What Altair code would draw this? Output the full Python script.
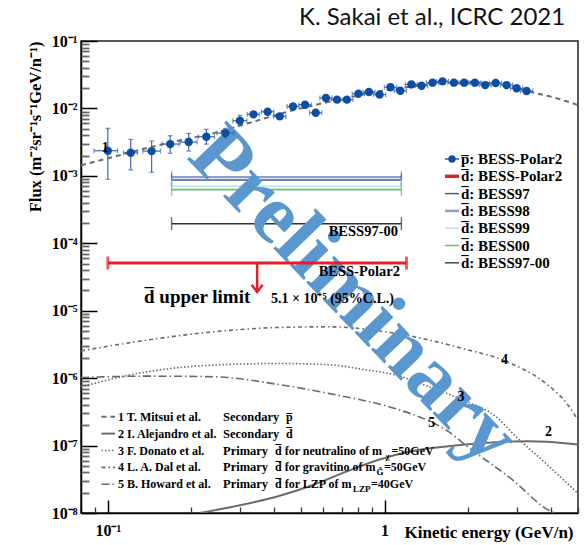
import altair as alt
import pandas as pd

SERIF = "Liberation Serif"

# ---------------- BESS-Polar II antiproton flux ----------------
pbar_energy = [0.100, 0.121, 0.144, 0.168, 0.196, 0.227, 0.266, 0.300, 0.336, 0.378,
               0.418, 0.467, 0.516, 0.564, 0.614, 0.673, 0.731, 0.804, 0.878, 0.959,
               1.05, 1.14, 1.25, 1.36, 1.49, 1.62, 1.78, 1.94, 2.12, 2.31,
               2.52, 2.76, 3.00, 3.26]
pbar_flux = [2.36e-3, 2.20e-3, 2.33e-3, 2.96e-3, 3.17e-3, 3.80e-3, 4.31e-3, 6.58e-3, 8.17e-3, 8.93e-3,
             7.62e-3, 1.07e-2, 1.135e-2, 8.63e-3, 1.43e-2, 1.35e-2, 1.35e-2, 1.65e-2, 1.75e-2, 1.60e-2,
             2.06e-2, 1.83e-2, 2.27e-2, 2.17e-2, 2.41e-2, 2.52e-2, 2.41e-2, 2.41e-2, 2.41e-2, 2.22e-2,
             2.38e-2, 2.22e-2, 1.99e-2, 1.81e-2]
pbar_flux_lo = [8.9e-4, 1.22e-3, 1.13e-3, 2.16e-3, 2.33e-3, 2.95e-3, 3.60e-3, 5.60e-3, 7.6e-3, 8.3e-3,
                7.1e-3, 1.00e-2, 1.07e-2, 8.1e-3, 1.35e-2, 1.28e-2, 1.28e-2, 1.57e-2, 1.67e-2, 1.52e-2,
                1.97e-2, 1.75e-2, 2.18e-2, 2.08e-2, 2.32e-2, 2.43e-2, 2.32e-2, 2.32e-2, 2.32e-2, 2.13e-2,
                2.29e-2, 2.13e-2, 1.91e-2, 1.73e-2]
pbar_flux_hi = [5.07e-3, 3.47e-3, 3.28e-3, 3.94e-3, 4.27e-3, 4.90e-3, 5.07e-3, 7.90e-3, 8.8e-3, 9.6e-3,
                8.2e-3, 1.14e-2, 1.20e-2, 9.2e-3, 1.51e-2, 1.42e-2, 1.42e-2, 1.73e-2, 1.83e-2, 1.68e-2,
                2.15e-2, 1.91e-2, 2.36e-2, 2.26e-2, 2.50e-2, 2.61e-2, 2.50e-2, 2.50e-2, 2.50e-2, 2.31e-2,
                2.47e-2, 2.31e-2, 2.07e-2, 1.89e-2]
pbar_energy_lo = [0.0892, 0.114, 0.134, 0.157, 0.183, 0.212, 0.248, 0.283, 0.319, 0.359,
                  0.397, 0.444, 0.490, 0.536, 0.584, 0.640, 0.695, 0.764, 0.835, 0.912,
                  0.998, 1.084, 1.188, 1.293, 1.416, 1.540, 1.692, 1.844, 2.015, 2.196,
                  2.395, 2.624, 2.852, 3.099]
pbar_energy_hi = [0.1084, 0.128, 0.155, 0.181, 0.210, 0.243, 0.285, 0.318, 0.353, 0.398,
                  0.440, 0.491, 0.543, 0.593, 0.646, 0.708, 0.769, 0.846, 0.924, 1.009,
                  1.105, 1.199, 1.315, 1.431, 1.567, 1.704, 1.873, 2.041, 2.230, 2.430,
                  2.651, 2.904, 3.156, 3.430]

# ---------------- antideuteron upper limits ----------------
bess_names = ["BESS98", "BESS97", "BESS99", "BESS00", "BESS97-00"]
bess_limits = [9.6e-4, 8.7e-4, 7.0e-4, 6.26e-4, 1.95e-4]
bess_emin, bess_emax = 0.17, 1.15
polar2_limit = 5.1e-5
polar2_emin, polar2_emax = 0.10, 1.20
polar2_arrow_end = 1.9e-5

# ---------------- model predictions ----------------
c1_energy = [0.08, 0.105, 0.15, 0.18, 0.24, 0.32, 0.45, 0.6, 0.8, 1.0, 1.3, 1.7, 2.2, 2.8, 3.3, 4.2, 5.0]
c1_flux = [1.44e-3, 1.92e-3, 2.8e-3, 3.32e-3, 4.27e-3, 6.0e-3, 9.0e-3, 1.2e-2, 1.55e-2, 1.85e-2,
           2.15e-2, 2.38e-2, 2.42e-2, 2.2e-2, 1.8e-2, 1.41e-2, 1.12e-2]
c2_energy = [0.215, 0.30, 0.418, 0.551, 0.727, 0.959, 1.265, 1.67, 2.2, 2.9, 3.34, 3.83, 5.0]
c2_flux = [1.0e-8, 1.3e-8, 1.8e-8, 2.6e-8, 4.1e-8, 6.2e-8, 8.3e-8, 9.7e-8, 1.08e-7, 1.15e-7,
           1.16e-7, 1.14e-7, 1.04e-7]
c3_energy = [0.08, 0.138, 0.24, 0.418, 0.633, 0.835, 1.10, 1.454, 1.918, 2.53, 2.99, 3.83, 5.0]
c3_flux = [7.45e-7, 1.24e-6, 1.56e-6, 1.65e-6, 1.58e-6, 1.35e-6, 1.11e-6, 7.43e-7, 4.72e-7,
           2.67e-7, 1.35e-7, 5.42e-8, 1.95e-8]
c4_energy = [0.08, 0.138, 0.24, 0.418, 0.633, 1.10, 1.918, 2.67, 3.83, 4.6, 5.0]
c4_flux = [2.54e-6, 3.66e-6, 4.86e-6, 5.65e-6, 5.77e-6, 4.6e-6, 2.75e-6, 1.85e-6, 8.3e-7, 4.0e-7, 2.38e-7]
c5_energy = [0.08, 0.138, 0.24, 0.418, 0.633, 1.10, 1.454, 1.67, 1.97, 2.9, 3.92, 4.12]
c5_flux = [1.02e-6, 1.07e-6, 1.05e-6, 8.0e-7, 5.9e-7, 3.5e-7, 2.3e-7, 1.7e-7, 1.0e-7, 3.1e-8, 1.1e-8, 1.0e-8]

curve_tags = ["1", "2", "3", "4", "5"]
curve_tag_energy = [0.0978, 3.91, 1.89, 2.71, 1.48]
curve_tag_flux = [2.56e-3, 1.6e-7, 5.28e-7, 1.89e-6, 2.13e-7]

model_authors = ["1 T. Mitsui et al.", "2 I. Alejandro et al.", "3 F. Donato et al.",
                 "4 L. A. Dal et al.", "5 B. Howard et al."]

# ---------------- layout ----------------
PLOT_W, PLOT_H = 497, 472
x_scale = alt.Scale(type="log", domain=[0.08, 5], nice=False)
y_scale = alt.Scale(type="log", domain=[1e-8, 1e-1], nice=False)

GRAY = "#6b6b6b"
curve_styles = [
    dict(strokeDash=[5, 4], strokeWidth=2.0, color=GRAY),
    dict(strokeWidth=2.0, color=GRAY),
    dict(strokeDash=[1.5, 2], strokeWidth=1.6, color=GRAY),
    dict(strokeDash=[4, 3, 1.5, 3], strokeWidth=1.6, color=GRAY),
    dict(strokeDash=[8, 3, 1.5, 3], strokeWidth=1.6, color=GRAY),
]
bess_colors = ["#8e9bcc", "#3f5c9e", "#c4e4f0", "#6abf6a", "#333333"]
bess_widths = [2.2, 1.6, 2.0, 1.8, 1.4]
RED = "#e3202a"
BLUE = "#0d4ea3"
ERR_BLUE = "#3a6ab2"


def xy(df, ex="energy", fy="flux"):
    return dict(x=alt.X(f"{ex}:Q", scale=x_scale, axis=None),
                y=alt.Y(f"{fy}:Q", scale=y_scale, axis=None))


def px_text(rows, **kw):
    df = pd.DataFrame(rows, columns=["px", "py", "text"])
    base = dict(font=SERIF, fontWeight="bold", color="black", align="left", baseline="middle")
    base.update(kw)
    return alt.Chart(df).mark_text(**base).encode(
        x=alt.X("px:Q", scale=None, axis=None),
        y=alt.Y("py:Q", scale=None, axis=None),
        text="text:N")


def px_rule(x1, x2, y, **kw):
    df = pd.DataFrame({"x1": [x1], "x2": [x2], "y": [y]})
    return alt.Chart(df).mark_rule(**kw).encode(
        x=alt.X("x1:Q", scale=None, axis=None), x2="x2:Q",
        y=alt.Y("y:Q", scale=None, axis=None))


# ---------------- axes ----------------
major = "abs(log(datum.value)/LN10 - round(log(datum.value)/LN10)) < 0.001"
y_decades = [10.0 ** k for k in range(-8, 0)]
y_ticks = [m * d for d in y_decades for m in range(1, 10)] + [0.1]
x_ticks = [0.08, 0.09, 0.1, 0.2, 0.3, 0.4, 0.5, 0.6, 0.7, 0.8, 0.9, 1, 2, 3, 4, 5]

anchor = pd.DataFrame({"energy": [1.0], "flux": [1e-3]})

label_axes = alt.Chart(anchor).mark_point(opacity=0).encode(
    x=alt.X("energy:Q", scale=x_scale, axis=alt.Axis(
        orient="bottom", values=[0.1, 1], ticks=False, tickSize=0, grid=False,
        labelExpr="datum.value == 1 ? '1' : '10⁻¹'",
        labelFont=SERIF, labelFontWeight="bold", labelFontSize=16, labelColor="black",
        labelPadding=9, domainColor="black", domainWidth=1.5,
        title="Kinetic energy (GeV/n)", titleFont=SERIF, titleFontWeight="bold",
        titleFontSize=17, titleColor="black", titleAnchor="end", titleAlign="right",
        titleX=492, titleY=24, titleBaseline="alphabetic")),
    y=alt.Y("flux:Q", scale=y_scale, axis=alt.Axis(
        orient="left", values=y_decades + [0.1], ticks=False, tickSize=0, grid=False,
        labelExpr="['10⁻⁸','10⁻⁷','10⁻⁶','10⁻⁵','10⁻⁴','10⁻³','10⁻²','10⁻¹'][round(log(datum.value)/LN10)+8]",
        labelFont=SERIF, labelFontWeight="bold", labelFontSize=16, labelColor="black",
        labelPadding=4, labelBaseline="middle", domainColor="black", domainWidth=1.5,
        title="Flux (m⁻²sr⁻¹s⁻¹GeV/n⁻¹)", titleFont=SERIF, titleFontWeight="bold",
        titleFontSize=16.5, titleColor="black", titleAngle=270, titleAlign="right",
        titleAnchor="end", titleX=-41, titleY=0, titleBaseline="alphabetic")),
)

tick_axes = alt.Chart(anchor).mark_point(opacity=0).encode(
    x=alt.X("energy:Q", scale=x_scale, axis=alt.Axis(
        orient="top", offset=-PLOT_H, values=x_ticks, labels=False, domain=False, grid=False,
        title=None,
        tickSize={"condition": {"test": major, "value": 13}, "value": 6},
        tickColor={"condition": {"test": major, "value": "#000000"}, "value": "#333333"},
        tickWidth={"condition": {"test": major, "value": 1.5}, "value": 1.3})),
    y=alt.Y("flux:Q", scale=y_scale, axis=alt.Axis(
        orient="right", offset=-PLOT_W, values=y_ticks, labels=False, domain=False, grid=False,
        title=None,
        tickSize={"condition": {"test": major, "value": 16}, "value": 8},
        tickColor={"condition": {"test": major, "value": "#000000"}, "value": "#666666"},
        tickWidth={"condition": {"test": major, "value": 1.5}, "value": 1.8})),
)

# ---------------- model curves ----------------
curve_data = [(c1_energy, c1_flux), (c2_energy, c2_flux), (c3_energy, c3_flux),
              (c4_energy, c4_flux), (c5_energy, c5_flux)]
curve_layers = []
for (ce, cf), style in zip(curve_data, curve_styles):
    df = pd.DataFrame({"energy": ce, "flux": cf})
    curve_layers.append(alt.Chart(df).mark_line(interpolate="monotone", clip=True, **style).encode(**xy(df)))

tag_df = pd.DataFrame({"energy": curve_tag_energy, "flux": curve_tag_flux, "tag": curve_tags})
tag_layer = alt.Chart(tag_df).mark_text(font=SERIF, fontWeight="bold", fontSize=14, color="black").encode(
    text="tag:N", **xy(tag_df))

# ---------------- BESS limits ----------------
limit_layers = []
for name, lim, col, w in zip(bess_names, bess_limits, bess_colors, bess_widths):
    df = pd.DataFrame({"emin": [bess_emin], "emax": [bess_emax], "flux": [lim]})
    limit_layers.append(alt.Chart(df).mark_rule(color=col, strokeWidth=w).encode(
        x=alt.X("emin:Q", scale=x_scale, axis=None), x2="emax:Q",
        y=alt.Y("flux:Q", scale=y_scale, axis=None)))
    caps = pd.DataFrame({"energy": [bess_emin, bess_emax], "flux": [lim, lim]})
    limit_layers.append(alt.Chart(caps).mark_tick(orient="vertical", size=13, thickness=1.4, color=col).encode(**xy(caps)))

# BESS-Polar II limit with downward arrow
p2 = pd.DataFrame({"emin": [polar2_emin], "emax": [polar2_emax], "flux": [polar2_limit]})
p2_line = alt.Chart(p2).mark_rule(color=RED, strokeWidth=3).encode(
    x=alt.X("emin:Q", scale=x_scale, axis=None), x2="emax:Q",
    y=alt.Y("flux:Q", scale=y_scale, axis=None))
p2_caps_df = pd.DataFrame({"energy": [polar2_emin, polar2_emax], "flux": [polar2_limit] * 2})
p2_caps = alt.Chart(p2_caps_df).mark_tick(orient="vertical", size=13, thickness=3, color=RED).encode(**xy(p2_caps_df))
arrow_x = (polar2_emin * polar2_emax) ** 0.5
arrow_df = pd.DataFrame({"energy": [arrow_x], "top": [polar2_limit], "flux": [polar2_arrow_end]})
p2_arrow = alt.Chart(arrow_df).mark_rule(color=RED, strokeWidth=2.5).encode(
    x=alt.X("energy:Q", scale=x_scale, axis=None),
    y=alt.Y("top:Q", scale=y_scale, axis=None), y2="flux:Q")
p2_head = alt.Chart(arrow_df).mark_point(
    shape="M-1,-1.3L0,0L1,-1.3", filled=False, stroke=RED, strokeWidth=2.5, size=120, opacity=1
).encode(**xy(arrow_df))

# ---------------- antiproton data ----------------
pb = pd.DataFrame({"energy": pbar_energy, "flux": pbar_flux, "flo": pbar_flux_lo, "fhi": pbar_flux_hi,
                   "elo": pbar_energy_lo, "ehi": pbar_energy_hi})
pb_yerr = alt.Chart(pb).mark_rule(color=ERR_BLUE, strokeWidth=1.2).encode(
    x=alt.X("energy:Q", scale=x_scale, axis=None),
    y=alt.Y("flo:Q", scale=y_scale, axis=None), y2="fhi:Q")
pb_xerr = alt.Chart(pb).mark_rule(color=ERR_BLUE, strokeWidth=1.2).encode(
    x=alt.X("elo:Q", scale=x_scale, axis=None), x2="ehi:Q",
    y=alt.Y("flux:Q", scale=y_scale, axis=None))
pb_cap_lo = alt.Chart(pb).mark_tick(orient="horizontal", size=5, thickness=1.2, color=ERR_BLUE).encode(
    x=alt.X("energy:Q", scale=x_scale, axis=None), y=alt.Y("flo:Q", scale=y_scale, axis=None))
pb_cap_hi = alt.Chart(pb).mark_tick(orient="horizontal", size=5, thickness=1.2, color=ERR_BLUE).encode(
    x=alt.X("energy:Q", scale=x_scale, axis=None), y=alt.Y("fhi:Q", scale=y_scale, axis=None))
pb_cap_l = alt.Chart(pb).mark_tick(orient="vertical", size=5, thickness=1.2, color=ERR_BLUE).encode(
    x=alt.X("elo:Q", scale=x_scale, axis=None), y=alt.Y("flux:Q", scale=y_scale, axis=None))
pb_cap_r = alt.Chart(pb).mark_tick(orient="vertical", size=5, thickness=1.2, color=ERR_BLUE).encode(
    x=alt.X("ehi:Q", scale=x_scale, axis=None), y=alt.Y("flux:Q", scale=y_scale, axis=None))
pb_points = alt.Chart(pb).mark_circle(color=BLUE, size=70, opacity=1).encode(**xy(pb))

# ---------------- watermark ----------------
watermark = px_text([(273, 255, "Preliminary")], fontSize=84, angle=46, color="#5b97cf",
                    align="center", baseline="middle")

# ---------------- annotations ----------------
notes = [
    px_text([(317, 195, "BESS97-00")], fontSize=14.5, align="right", baseline="alphabetic"),
    px_text([(319, 235, "BESS-Polar2")], fontSize=14.5, align="right", baseline="alphabetic"),
    px_text([(63, 262, "d\u0305 upper limit")], fontSize=19, baseline="alphabetic"),
    px_text([(190, 262, "5.1  × 10⁻⁵ (95%C.L.)")], fontSize=14, baseline="alphabetic"),
]

# top-right legend
leg_y0, leg_dy = 118, 17.3
leg_labels = ["p\u0305: BESS-Polar2", "d\u0305: BESS-Polar2"] + ["d\u0305: " + n for n in bess_names[1:2] + bess_names[0:1] + bess_names[2:]]
leg_colors = ["#2d5ca6", RED, bess_colors[1], bess_colors[0], bess_colors[2], bess_colors[3], "#444444"]
leg_widths = [1.5, 3.5, 1.5, 2.5, 2.0, 1.5, 1.5]
legend_layers = [px_text([(380, leg_y0 + i * leg_dy, t) for i, t in enumerate(leg_labels)], fontSize=15)]
for i, (c, w) in enumerate(zip(leg_colors, leg_widths)):
    legend_layers.append(px_rule(364, 378, leg_y0 + i * leg_dy, color=c, strokeWidth=w))
dot_df = pd.DataFrame({"px": [371], "py": [leg_y0]})
legend_layers.append(alt.Chart(dot_df).mark_circle(color=BLUE, size=55, opacity=1).encode(
    x=alt.X("px:Q", scale=None, axis=None), y=alt.Y("py:Q", scale=None, axis=None)))

# bottom-left legend of models
mod_y0, mod_dy = 375.7, 16.9
MOD_FS = 12
legend_layers.append(px_text([(37, mod_y0 + i * mod_dy, t) for i, t in enumerate(model_authors)], fontSize=MOD_FS))
for i, style in enumerate(curve_styles):
    legend_layers.append(px_rule(20.5, 34, mod_y0 + i * mod_dy, **style))
legend_layers += [
    px_text([(142, mod_y0, "Secondary"), (142, mod_y0 + mod_dy, "Secondary"),
             (142, mod_y0 + 2 * mod_dy, "Primary"), (142, mod_y0 + 3 * mod_dy, "Primary"),
             (142, mod_y0 + 4 * mod_dy, "Primary")], fontSize=12.5),
    px_text([(205, mod_y0, "p\u0305"), (205, mod_y0 + mod_dy, "d\u0305"),
             (194, mod_y0 + 2 * mod_dy, "d\u0305 for neutralino of m"),
             (194, mod_y0 + 3 * mod_dy, "d\u0305 for gravitino of m"),
             (194, mod_y0 + 4 * mod_dy, "d\u0305 for LZP of m")], fontSize=MOD_FS),
    px_text([(304.5, mod_y0 + 2 * mod_dy + 5, "χ"),
             (295.5, mod_y0 + 3 * mod_dy + 5, "G\u0303"),
             (272, mod_y0 + 4 * mod_dy + 5, "LZP")], fontSize=9),
    px_text([(310.5, mod_y0 + 2 * mod_dy, "=50GeV"),
             (303, mod_y0 + 3 * mod_dy, "=50GeV"),
             (290, mod_y0 + 4 * mod_dy, "=40GeV")], fontSize=MOD_FS),
]

# citation in the top margin
citation = px_text([(218, -16, "K. Sakai et al., ICRC 2021")], font="Lato", fontWeight="normal",
                   fontSize=24, baseline="alphabetic", color="#111111")

layers = ([label_axes, tick_axes] + curve_layers + limit_layers + [watermark] +
          [p2_line, p2_caps, p2_arrow, p2_head,
           pb_yerr, pb_xerr, pb_cap_lo, pb_cap_hi, pb_cap_l, pb_cap_r, pb_points, tag_layer] +
          notes + legend_layers + [citation])

chart = alt.layer(*layers).resolve_axis(x="independent", y="independent").properties(
    width=PLOT_W, height=PLOT_H,
    autosize=alt.AutoSizeParams(type="none"),
    padding={"left": 81, "top": 41, "right": 9, "bottom": 32},
    background="white",
).configure_view(stroke="#222222", strokeWidth=1.5)

chart.save("out.html", embed_options={"renderer": "svg", "actions": False})
